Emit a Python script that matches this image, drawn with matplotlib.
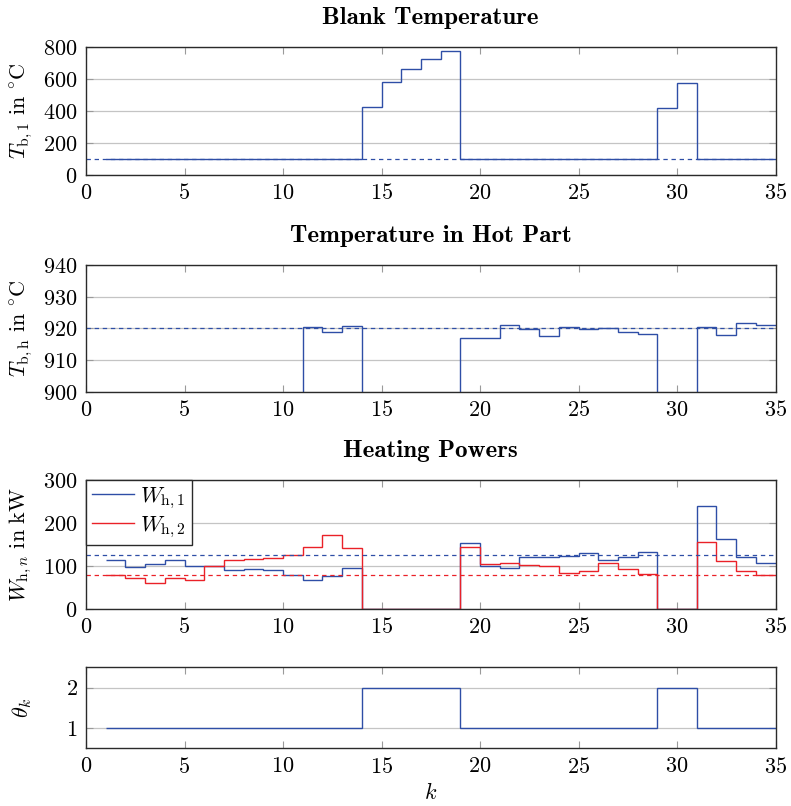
import numpy as np
import matplotlib
matplotlib.use("Agg")
import matplotlib.pyplot as plt

# time steps k = 1..34 (each value held until the next step, last edge at 35)
k_edges = np.arange(1, 36)

blank_temp = [100] * 13 + [427, 583, 667, 729, 775] + [100] * 10 + [421, 577] + [100] * 4
blank_temp_ref = 100

hot_temp = ([0] * 10 + [920.6, 918.8, 920.7] + [0] * 5 +
            [917.0, 916.9, 921.1, 919.9, 917.7, 920.6, 919.9, 920.3, 918.9, 918.4] +
            [0] * 2 + [920.6, 918.1, 921.7, 921.2])
hot_temp_ref = 920

power_1 = ([115, 97, 105, 115, 99, 99, 90, 94, 91, 78, 68, 76, 95] + [0] * 5 +
           [153, 99, 95, 120, 121, 124, 130, 113, 122, 133] + [0] * 2 +
           [240, 162, 121, 107])
power_2 = ([78, 72, 60, 71, 68, 99, 113, 117, 119, 126, 144, 171, 142] + [0] * 5 +
           [144, 104, 106, 103, 101, 84, 88, 107, 93, 81] + [0] * 2 +
           [155, 112, 89, 80])
power_1_ref = 125
power_2_ref = 79

theta = [1] * 13 + [2] * 5 + [1] * 10 + [2] * 2 + [1] * 4

x_ticks = [0, 5, 10, 15, 20, 25, 30, 35]

BLUE = "#2e4ea6"
RED = "#ea2128"
FS = 16

plt.rcParams.update({
    "font.family": "serif",
    "font.serif": ["cmr10"],
    "mathtext.fontset": "cm",
    "axes.formatter.use_mathtext": True,
    "font.size": FS,
    "axes.unicode_minus": False,
})

fig = plt.figure(figsize=(7.91, 8.06), dpi=100)
W, H = 791, 806
left = 86 / W
width = (775.5 - 86) / W


def make_axes(top_px, bottom_px):
    return fig.add_axes([left, 1 - bottom_px / H, width, (bottom_px - top_px) / H])


def style(ax, yticks, ylim):
    ax.set_xlim(0, 35)
    ax.set_ylim(*ylim)
    ax.set_xticks(x_ticks)
    ax.set_yticks(yticks)
    ax.tick_params(direction="in", length=5, width=0.8, color="#9a9a9a",
                   top=True, right=True, labelsize=FS, pad=6)
    ax.grid(axis="y", color="#c4c4c4", linewidth=0.9)
    ax.set_axisbelow(True)
    for sp in ax.spines.values():
        sp.set_color("#2a2a2a")
        sp.set_linewidth(1.0)
    ax.yaxis.set_label_coords(-0.076, 0.5)


def title(ax, text):
    ax.set_title(text, fontfamily="cmb10", fontsize=18, pad=16.5)


dash = dict(linestyle=(0, (3.5, 3.0)), linewidth=0.9)

# Blank temperature
ax1 = make_axes(47.3, 175)
style(ax1, [0, 200, 400, 600, 800], (0, 800))
ax1.axhline(blank_temp_ref, color=BLUE, **dash)
ax1.stairs(blank_temp, k_edges, baseline=None, color=BLUE, linewidth=1.0)
ax1.set_ylabel(r"$T_{\mathrm{b},1}\ \mathrm{in}\ {}^{\circ}\mathrm{C}$", fontsize=FS)
title(ax1, "Blank Temperature")

# Temperature in hot part
ax2 = make_axes(265, 392)
style(ax2, [900, 910, 920, 930, 940], (900, 940))
ax2.axhline(hot_temp_ref, color=BLUE, **dash)
ax2.stairs(hot_temp, k_edges, baseline=None, color=BLUE, linewidth=1.0)
ax2.set_ylabel(r"$T_{\mathrm{b,h}}\ \mathrm{in}\ {}^{\circ}\mathrm{C}$", fontsize=FS)
title(ax2, "Temperature in Hot Part")

# Heating powers
ax3 = make_axes(480, 609)
style(ax3, [0, 100, 200, 300], (0, 300))
ax3.axhline(power_1_ref, color=BLUE, **dash)
ax3.axhline(power_2_ref, color=RED, **dash)
ax3.stairs(power_1, k_edges, baseline=None, color=BLUE, linewidth=1.0,
           label=r"$W_{\mathrm{h},1}$")
ax3.stairs(power_2, k_edges, baseline=None, color=RED, linewidth=1.0,
           label=r"$W_{\mathrm{h},2}$")
ax3.set_ylabel(r"$W_{\mathrm{h},n}\ \mathrm{in\ kW}$", fontsize=FS)
title(ax3, "Heating Powers")
leg = ax3.legend(loc="upper left", borderaxespad=0, fancybox=False, framealpha=1,
                 edgecolor="#2a2a2a", fontsize=FS, handlelength=1.9,
                 handletextpad=0.3, borderpad=0.25, labelspacing=0.15)
leg.get_frame().set_linewidth(1.0)

# Mode selection
ax4 = make_axes(667.3, 748.3)
style(ax4, [1, 2], (0.5, 2.5))
ax4.stairs(theta, k_edges, baseline=None, color=BLUE, linewidth=1.0)
ax4.set_ylabel(r"$\theta_k$", fontsize=FS)
ax4.set_xlabel(r"$k$", fontsize=FS, labelpad=4)

fig.savefig("out.png", dpi=100)
